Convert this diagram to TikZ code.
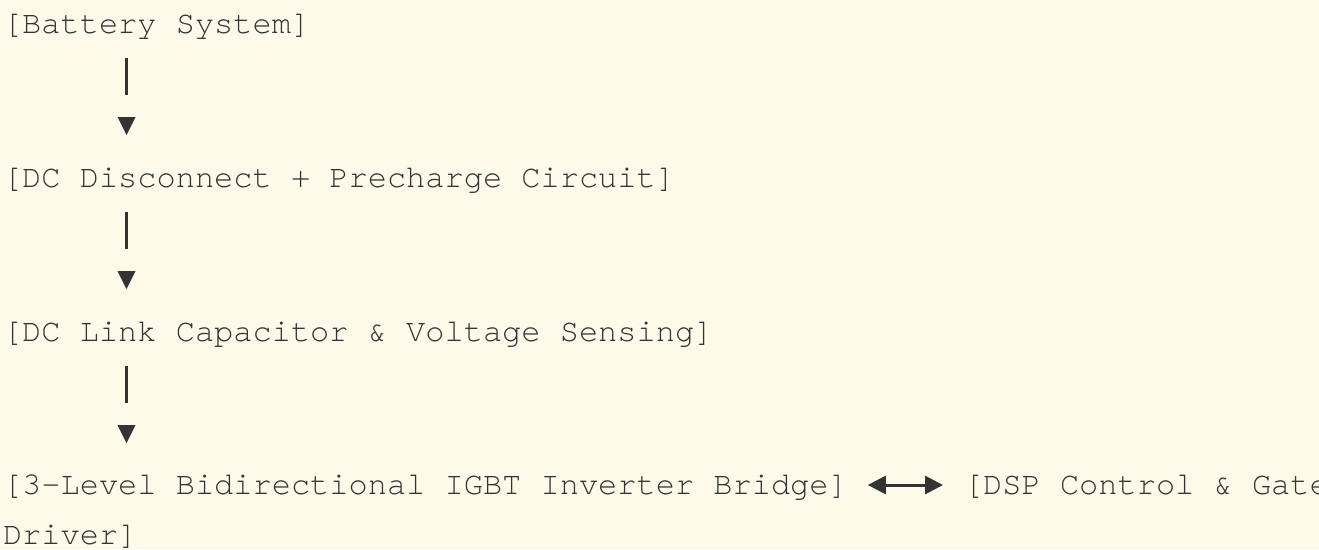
\documentclass[tikz,border=0pt]{standalone}
\usepackage{fontspec}
\setmonofont{TeX Gyre Cursor}
\usetikzlibrary{arrows.meta}
\definecolor{bg}{HTML}{FEFAEA}
\definecolor{ink}{HTML}{333333}
\tikzset{
  lbl/.style={anchor=base west, inner sep=0pt, outer sep=0pt, text=ink, font=\ttfamily\fontsize{32pt}{38pt}\selectfont},
  vline/.style={draw=ink, line width=3pt},
  tri/.style={fill=ink, draw=none},
  dbl/.style={draw=ink, line width=3pt, {Triangle[length=18pt,width=18pt]}-{Triangle[length=18pt,width=18pt]}}
}
\begin{document}
\begin{tikzpicture}[x=1pt,y=-1pt]
\fill[bg] (0,0) rectangle (1319,549);
\useasboundingbox (0,0) rectangle (1319,549);
\clip (0,0) rectangle (1319,549);
\node[lbl] (bat) at (3,33) {[Battery System]};
\node[lbl] (dc) at (3,187) {[DC Disconnect + Precharge Circuit]};
\node[lbl] (cap) at (3,341) {[DC Link Capacitor \& Voltage Sensing]};
\node[lbl] (inv) at (3,494) {[3-Level Bidirectional IGBT Inverter Bridge]};
\node[lbl] (dsp) at (964,494) {[DSP Control \& Gate};
\node[lbl] (drv) at (3,544) {Driver]};
% vertical arrows
\foreach \a/\y in {1/0,2/154,3/308}{
  \coordinate (s\a) at (126.5,58+\y);
  \coordinate (e\a) at (126.5,95+\y);
  \draw[vline] (s\a) -- (e\a);
  \fill[tri] (117.5,117+\y) -- (135.5,117+\y) -- (126.5,135+\y) -- cycle;
}
\draw[dbl] ([xshift=20pt,yshift=9pt]inv.base east) -- ([xshift=-21pt,yshift=9pt]dsp.base west);
\end{tikzpicture}
\end{document}
